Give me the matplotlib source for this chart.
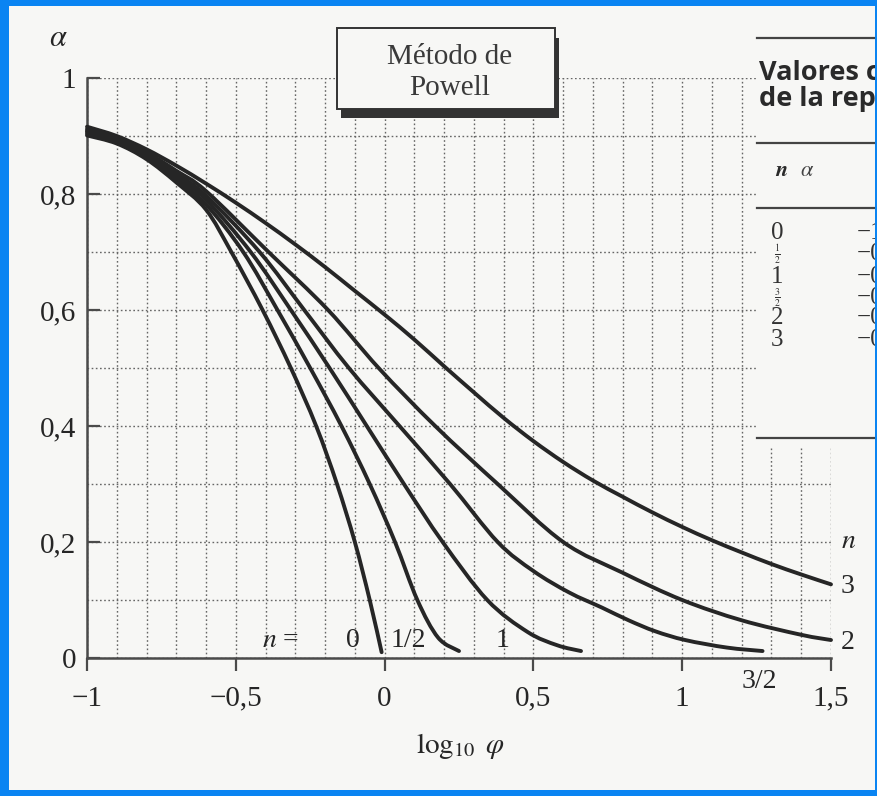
import matplotlib
matplotlib.use("Agg")
import matplotlib.pyplot as plt
from matplotlib.ticker import MultipleLocator, FixedLocator
from matplotlib.patches import Rectangle, PathPatch
from matplotlib.path import Path
from matplotlib.lines import Line2D

# ---- data: alpha versus log10(phi) for each reaction order n ----
x_n0 = [-1.0, -0.9, -0.8, -0.7, -0.6, -0.515, -0.41, -0.315, -0.23, -0.16, -0.1, -0.05, -0.01]
a_n0 = [0.901, 0.887, 0.860, 0.820, 0.773, 0.70, 0.60, 0.50, 0.40, 0.30, 0.20, 0.10, 0.01]

x_n05 = [-1.0, -0.9, -0.8, -0.7, -0.6, -0.475, -0.36, -0.25, -0.145, -0.05, 0.035, 0.11, 0.18, 0.25]
a_n05 = [0.904, 0.889, 0.863, 0.825, 0.782, 0.70, 0.60, 0.50, 0.40, 0.30, 0.20, 0.10, 0.035, 0.012]

x_n1 = [-1.0, -0.9, -0.8, -0.7, -0.6, -0.45, -0.315, -0.185, -0.06, 0.065, 0.195, 0.345, 0.48,
        0.58, 0.66]
a_n1 = [0.907, 0.892, 0.866, 0.830, 0.790, 0.70, 0.60, 0.50, 0.40, 0.30, 0.20, 0.10, 0.045,
        0.022, 0.012]

x_n15 = [-1.0, -0.9, -0.8, -0.7, -0.6, -0.42, -0.27, -0.12, 0.05, 0.22, 0.38, 0.50, 0.62, 0.73,
         0.82, 0.91, 1.01, 1.15, 1.27]
a_n15 = [0.909, 0.894, 0.869, 0.835, 0.797, 0.70, 0.60, 0.50, 0.40, 0.30, 0.20, 0.150, 0.113, 0.087,
         0.065, 0.046, 0.031, 0.018, 0.012]

x_n2 = [-1.0, -0.9, -0.8, -0.7, -0.6, -0.39, -0.19, -0.02, 0.17, 0.38, 0.60, 0.80, 1.00,
        1.20, 1.40, 1.50]
a_n2 = [0.912, 0.897, 0.872, 0.840, 0.805, 0.70, 0.60, 0.50, 0.40, 0.30, 0.20, 0.147, 0.100,
        0.065, 0.040, 0.031]

x_n3 = [-1.0, -0.9, -0.8, -0.7, -0.6, -0.5, -0.4, -0.3, -0.2, -0.1, 0.0, 0.1, 0.2, 0.3, 0.4, 0.5,
        0.6, 0.7, 0.8, 0.9, 1.0, 1.1, 1.2, 1.3, 1.4, 1.5]
a_n3 = [0.916, 0.900, 0.877, 0.849, 0.818, 0.785, 0.750, 0.713, 0.674, 0.633, 0.592, 0.549, 0.503,
        0.458, 0.414, 0.374, 0.338, 0.306, 0.278, 0.251, 0.226, 0.203, 0.182, 0.162, 0.144, 0.127]

curves = [(x_n0, a_n0), (x_n05, a_n05), (x_n1, a_n1), (x_n15, a_n15), (x_n2, a_n2), (x_n3, a_n3)]

x_ticks = [-1, -0.5, 0, 0.5, 1, 1.5]
x_tick_labels = ["\u22121", "\u22120,5", "0", "0,5", "1", "1,5"]
y_ticks = [0, 0.2, 0.4, 0.6, 0.8, 1.0]
y_tick_labels = ["0", "0,2", "0,4", "0,6", "0,8", "1"]

table_n = ["0", r"$\frac{1}{2}$", "1", r"$\frac{3}{2}$", "2", "3"]
table_alpha = ["\u22121", "\u22120", "\u22120", "\u22120", "\u22120", "\u22120"]

# ---- styling ----
plt.rcParams["font.family"] = ["Liberation Serif", "DejaVu Serif"]
plt.rcParams["mathtext.fontset"] = "stix"

W, H, DPI = 878, 796, 100
PAPER = "#f7f7f5"
INK = "#262626"
GRID = "#666666"
BLUE = "#0a84f2"


def fx(px):
    return px / W


def fy(py):
    return 1 - py / H


def smooth_path(xs, ys):
    """Cubic Bezier path passing through every point (Catmull-Rom tangents)."""
    pts = list(zip(xs, ys))
    n = len(pts)
    verts = [pts[0]]
    codes = [Path.MOVETO]
    for i in range(n - 1):
        p0 = pts[max(i - 1, 0)]
        p1 = pts[i]
        p2 = pts[i + 1]
        p3 = pts[min(i + 2, n - 1)]
        c1 = (p1[0] + (p2[0] - p0[0]) / 6.0, p1[1] + (p2[1] - p0[1]) / 6.0)
        c2 = (p2[0] - (p3[0] - p1[0]) / 6.0, p2[1] - (p3[1] - p1[1]) / 6.0)
        verts += [c1, c2, p2]
        codes += [Path.CURVE4] * 3
    return Path(verts, codes)


fig = plt.figure(figsize=(W / DPI, H / DPI), dpi=DPI, facecolor=PAPER)
ax = fig.add_axes([fx(87), fy(658), (831 - 87) / W, (658 - 78) / H])
ax.set_facecolor(PAPER)
ax.set_xlim(-1, 1.5)
ax.set_ylim(0, 1)

for xs, ys in curves:
    ax.add_patch(PathPatch(smooth_path(xs, ys), facecolor="none", edgecolor=INK, lw=2.8,
                           capstyle="round", joinstyle="round", zorder=3, clip_on=False,
                           transform=ax.transData))

# fine dotted grid every 0.1
ax.xaxis.set_minor_locator(MultipleLocator(0.1))
ax.yaxis.set_minor_locator(MultipleLocator(0.1))
ax.grid(which="both", color=GRID, lw=1.0, ls=(0, (1.2, 1.8)), zorder=1)
ax.tick_params(which="minor", length=0)

ax.xaxis.set_major_locator(FixedLocator(x_ticks))
ax.set_xticklabels(x_tick_labels)
ax.yaxis.set_major_locator(FixedLocator(y_ticks))
ax.set_yticklabels(y_tick_labels)
ax.tick_params(axis="x", which="major", direction="out", length=9, width=1.6,
               colors="#4a4a4a", labelcolor=INK, labelsize=21, pad=11)
ax.tick_params(axis="y", which="major", direction="in", length=9, width=1.6,
               colors="#4a4a4a", labelcolor=INK, labelsize=21, pad=8)

for s in ("top", "right"):
    ax.spines[s].set_visible(False)
for s in ("left", "bottom"):
    ax.spines[s].set_color("#4a4a4a")
    ax.spines[s].set_linewidth(1.8)

# axis titles
fig.text(fx(58), fy(38), r"$\alpha$", fontsize=22, color=INK, ha="center", va="center")
fig.text(fx(461), fy(746), r"$\log_{10}\ \varphi$", fontsize=21, color=INK,
         ha="center", va="center")

# curve labels
ax.text(-0.35, 0.03, r"$n$ =", fontsize=20, color=INK, ha="center", va="center", zorder=4)
ax.text(-0.105, 0.03, "0", fontsize=20, color=INK, ha="center", va="center", zorder=4)
ax.text(0.08, 0.03, "1/2", fontsize=20, color=INK, ha="center", va="center", zorder=4)
ax.text(0.395, 0.03, "1", fontsize=20, color=INK, ha="center", va="center", zorder=4)
ax.text(1.26, -0.04, "3/2", fontsize=20, color=INK, ha="center", va="center", clip_on=False)
ax.text(1.555, 0.026, "2", fontsize=20, color=INK, ha="center", va="center", clip_on=False)
ax.text(1.555, 0.123, "3", fontsize=20, color=INK, ha="center", va="center", clip_on=False)
ax.text(1.56, 0.2, r"$n$", fontsize=20, color=INK, ha="center", va="center", clip_on=False)

# boxed method title with a drop shadow
fig.patches.append(Rectangle((fx(341), fy(118)), (559 - 341) / W, (118 - 38) / H,
                             transform=fig.transFigure, facecolor="#333333", edgecolor="none",
                             zorder=5))
fig.patches.append(Rectangle((fx(337), fy(109)), (555 - 337) / W, (109 - 28) / H,
                             transform=fig.transFigure, facecolor=PAPER, edgecolor="#333333",
                             lw=1.4, zorder=6))
fig.text(fx(450), fy(57), "Método de", fontsize=21, color="#3a3a3a", ha="center",
         va="center", zorder=7)
fig.text(fx(450), fy(88), "Powell", fontsize=21, color="#3a3a3a", ha="center",
         va="center", zorder=7)

# side table (runs off the right edge of the page)
fig.patches.append(Rectangle((fx(757), fy(448)), (W - 757) / W, (448 - 26) / H,
                             transform=fig.transFigure, facecolor=PAPER, edgecolor="none",
                             zorder=5))
for yy in (38, 143, 208, 438):
    fig.lines.append(Line2D([fx(757), fx(W)], [fy(yy), fy(yy)], transform=fig.transFigure,
                            color="#444444", lw=1.6, zorder=6))
fig.text(fx(759), fy(73), "Valores c", fontsize=19.5, fontweight="bold", color="#2a2a2a",
         family=["Open Sans", "DejaVu Sans"], ha="left", va="center", zorder=7)
fig.text(fx(759), fy(99), "de la rep", fontsize=19.5, fontweight="bold", color="#2a2a2a",
         family=["Open Sans", "DejaVu Sans"], ha="left", va="center", zorder=7)
fig.text(fx(782), fy(171), r"$\boldsymbol{n}$", fontsize=16, color="#2a2a2a", ha="center",
         va="center", zorder=7)
fig.text(fx(807), fy(171), r"$\alpha$", fontsize=16, color="#444444", ha="center",
         va="center", zorder=7)
row_y = [233, 254, 277, 298, 318, 340]
for lab, val, yy in zip(table_n, table_alpha, row_y):
    fs = 10 if lab.startswith("$") else 18
    fig.text(fx(777), fy(yy), lab, fontsize=fs, color="#333333", ha="center", va="center",
             zorder=7)
    fig.text(fx(857), fy(yy), val, fontsize=18, color="#333333", ha="left", va="center",
             zorder=7)

# blue frame
for (x0, y0, w, h) in [(0, 0, 9, H), (0, 0, W, 6), (0, H - 6, W, 6), (W - 3, 0, 3, H)]:
    fig.patches.append(Rectangle((fx(x0), fy(y0 + h)), w / W, h / H, transform=fig.transFigure,
                                 facecolor=BLUE, edgecolor="none", zorder=10))

fig.savefig("out.png", dpi=DPI, facecolor=PAPER)
